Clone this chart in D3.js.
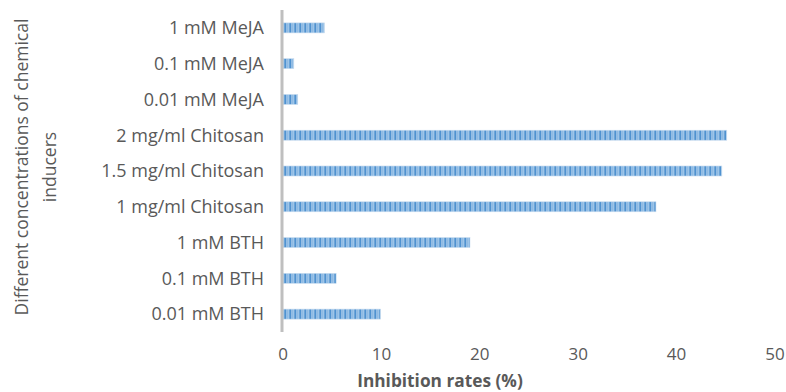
<!DOCTYPE html>
<html><head><meta charset="utf-8">
<script src="https://cdn.jsdelivr.net/npm/d3@7"></script>
<style>body{margin:0;background:#fff;} svg{display:block;}</style>
</head><body>
<svg id="c" width="786" height="392"></svg>
<script>
const categories = ["1 mM MeJA","0.1 mM MeJA","0.01 mM MeJA","2 mg/ml Chitosan","1.5 mg/ml Chitosan","1 mg/ml Chitosan","1 mM BTH","0.1 mM BTH ","0.01 mM BTH"];
const values = [4.2, 1.1, 1.5, 45.1, 44.6, 37.9, 19.0, 5.4, 9.9];
const xTicks = [0, 10, 20, 30, 40, 50];
const xTitle = "Inhibition rates (%)";
const yTitle = ["Different concentrations of chemical", "inducers"];

(function(){
const svg = d3.select("#c");
const font = "'Open Sans', 'Noto Sans', sans-serif";
const pLeft = 283, pRight = 775, pTop = 10, pBottom = 332;

const x = d3.scaleLinear().domain([0, 50]).range([pLeft, pRight]);
const y = d3.scaleBand().domain(categories).range([pTop, pBottom]).paddingInner(0.72).paddingOuter(0.36);

const defs = svg.append("defs");
const pat = defs.append("pattern").attr("id","stripes").attr("patternUnits","userSpaceOnUse")
  .attr("width",5).attr("height",10);
[["#4f92d0",0,1.5],["#7fb0e0",1.5,1],["#5e9dd8",2.5,1],["#8dbae4",3.5,0.7],["#4f92d0",4.2,0.8]].forEach(([c,px,w])=>{
  pat.append("rect").attr("x",px).attr("y",0).attr("width",w).attr("height",10).attr("fill",c);
});

svg.append("g").selectAll("rect").data(values).join("rect")
  .attr("x", x(0))
  .attr("y", (d,i)=>y(categories[i]))
  .attr("width", d=>x(d)-x(0))
  .attr("height", y.bandwidth())
  .attr("fill","url(#stripes)")
  .attr("stroke","#c9dcef").attr("stroke-width",0.6);

svg.append("line").attr("x1",x(0)-1).attr("x2",x(0)-1).attr("y1",pTop).attr("y2",pBottom)
  .attr("stroke","#bfbfbf").attr("stroke-width",3);

svg.append("g").selectAll("text").data(categories).join("text")
  .attr("x", 264).attr("y", d=>y(d)+y.bandwidth()/2)
  .attr("dy","0.35em").attr("text-anchor","end")
  .attr("font-family",font).attr("font-size",18).attr("fill","#595959")
  .text(d=>d);

svg.append("g").selectAll("text").data(xTicks).join("text")
  .attr("x", d=>x(d)).attr("y", 354).attr("dy","0.35em").attr("text-anchor","middle")
  .attr("font-family",font).attr("font-size",17).attr("fill","#595959")
  .text(d=>d);

svg.append("text").attr("x",440).attr("y",381).attr("dy","0.35em").attr("text-anchor","middle")
  .attr("font-family",font).attr("font-size",17.3).attr("font-weight","bold").attr("fill","#595959")
  .text(xTitle);

svg.append("text").attr("transform","translate(22,167) rotate(-90)")
  .attr("dy","0.35em").attr("text-anchor","middle")
  .attr("font-family",font).attr("font-size",17.5).attr("fill","#595959")
  .text(yTitle[0]);
svg.append("text").attr("transform","translate(50,167) rotate(-90)")
  .attr("dy","0.35em").attr("text-anchor","middle")
  .attr("font-family",font).attr("font-size",17.5).attr("fill","#595959")
  .text(yTitle[1]);
})();
</script>
</body></html>
